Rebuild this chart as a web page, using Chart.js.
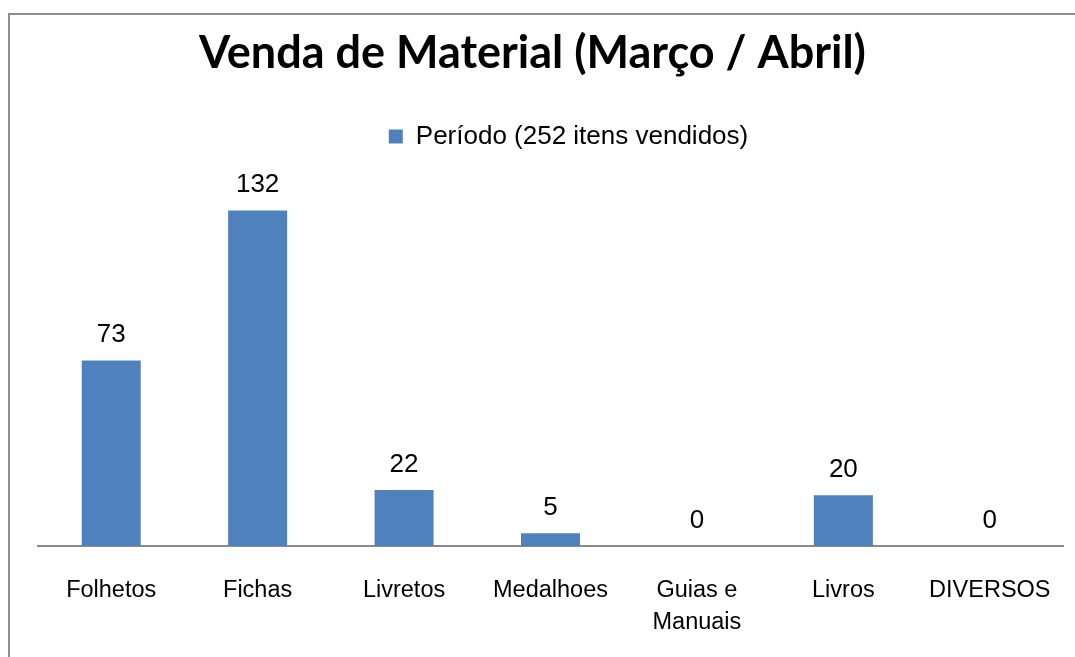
<!DOCTYPE html>
<html>
<head>
<meta charset="utf-8">
<script src="https://cdn.jsdelivr.net/npm/chart.js@4.4.1/dist/chart.umd.min.js"></script>
<style>
  html, body { margin: 0; padding: 0; background: #ffffff; overflow: hidden; }
  #wrap { position: relative; width: 1075px; height: 657px; }
  #frame { position: absolute; left: 8px; top: 13px; width: 1200px; height: 800px; border: 2px solid #8e8e8e; box-sizing: border-box; }
  #c { position: absolute; left: 0; top: 0; }
</style>
</head>
<body>
<div id="wrap">
  <div id="frame"></div>
  <canvas id="c" width="1075" height="657"></canvas>
</div>
<script>
const categories = ['Folhetos', 'Fichas', 'Livretos', 'Medalhoes', ['Guias e', 'Manuais'], 'Livros', 'DIVERSOS'];
const values = [73, 132, 22, 5, 0, 20, 0];
const seriesName = 'Período (252 itens vendidos)';
const chartTitle = 'Venda de Material (Março / Abril)';
const yMin = 0;
const yMax = 152;

const valueLabels = {
  id: 'valueLabels',
  afterDatasetsDraw(chart) {
    const ctx = chart.ctx;
    const meta = chart.getDatasetMeta(0);
    ctx.save();
    ctx.fillStyle = '#000000';
    ctx.font = '26px "Liberation Sans", Arial, sans-serif';
    ctx.textAlign = 'center';
    ctx.textBaseline = 'alphabetic';
    meta.data.forEach((bar, i) => {
      ctx.fillText(String(values[i]), bar.x, bar.y - 18);
    });
    ctx.restore();
  }
};

const shiftBlocks = {
  id: 'shiftBlocks',
  afterLayout(chart) {
    if (chart.titleBlock) { chart.titleBlock.left -= 18; chart.titleBlock.right -= 18; }
    if (chart.legend) { chart.legend.left += 18; chart.legend.right += 18; }
  }
};

new Chart(document.getElementById('c'), {
  type: 'bar',
  data: {
    labels: categories,
    datasets: [{
      label: seriesName,
      data: values,
      backgroundColor: '#4F81BD',
      borderWidth: 0,
      categoryPercentage: 1.0,
      barPercentage: 0.403
    }]
  },
  options: {
    responsive: false,
    animation: false,
    events: [],
    layout: { padding: { left: 38, right: 12, top: 0, bottom: 0 } },
    plugins: {
      title: {
        display: true,
        text: chartTitle,
        color: '#000000',
        font: { family: 'Lato, "Open Sans", sans-serif', size: 45, weight: 'bold', lineHeight: 1.2 },
        padding: { top: 26, bottom: 4 }
      },
      legend: {
        display: true,
        position: 'top',
        labels: {
          color: '#000000',
          font: { family: '"Liberation Sans", Arial, sans-serif', size: 26 },
          boxWidth: 14,
          boxHeight: 14,
          padding: 39.6
        }
      },
      tooltip: { enabled: false }
    },
    scales: {
      x: {
        grid: { display: false, drawTicks: false },
        border: { display: true, color: '#8a8a8a', width: 2 },
        ticks: {
          color: '#000000',
          font: { family: '"Liberation Sans", Arial, sans-serif', size: 23.5, lineHeight: 1.36 },
          padding: 29,
          maxRotation: 0,
          autoSkip: false
        },
        afterFit(scale) {
          scale.height = 111;
          scale.paddingLeft = 0;
          scale.paddingRight = 0;
        }
      },
      y: {
        display: false,
        min: yMin,
        max: yMax
      }
    }
  },
  plugins: [valueLabels, shiftBlocks]
});
</script>
</body>
</html>
